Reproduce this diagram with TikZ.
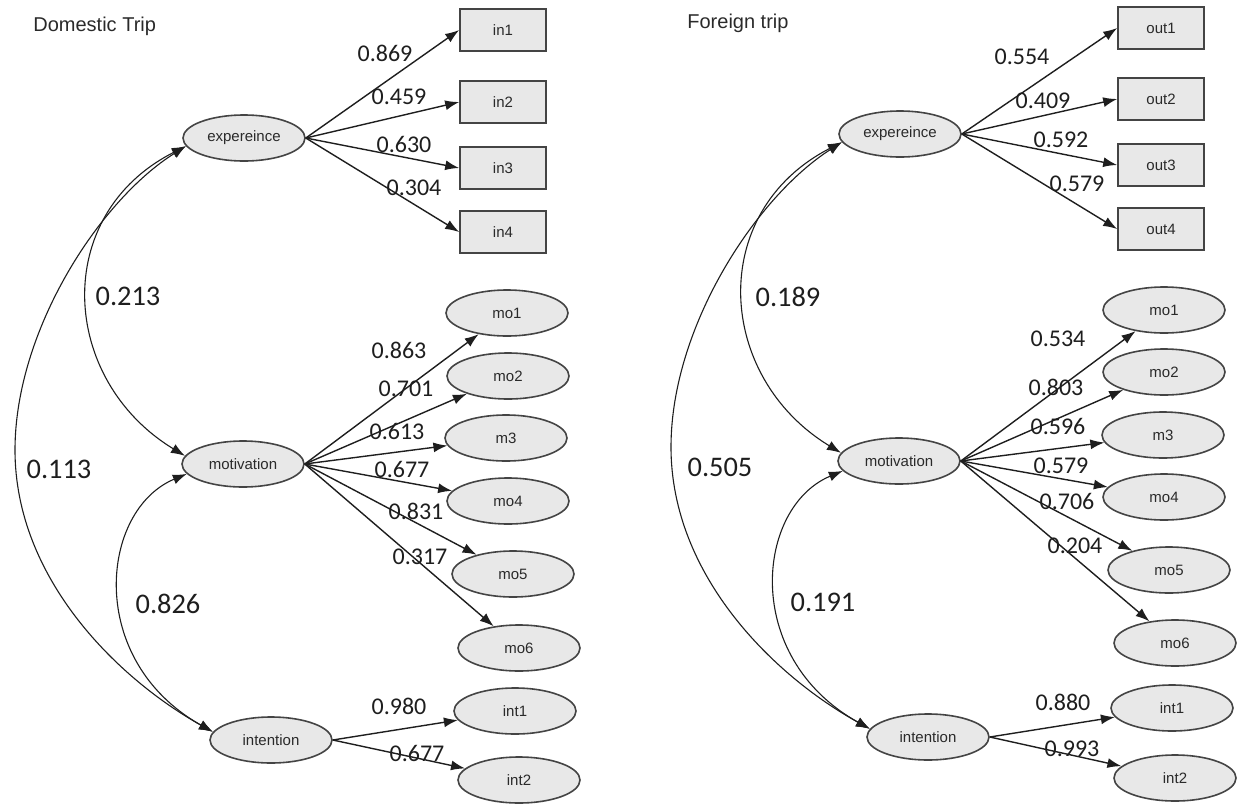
\documentclass[tikz,border=0pt]{standalone}
\usepackage{fontspec}
\setmainfont{Liberation Sans}
\newfontfamily\numfont{Carlito}
\usetikzlibrary{shapes.geometric,arrows.meta}
\definecolor{nfill}{HTML}{E8E8E8}
\definecolor{nline}{HTML}{444444}
\definecolor{ink}{HTML}{1E1E1E}
\definecolor{ntext}{HTML}{2A2A2A}
\tikzset{
  lat/.style={ellipse,draw=nline,fill=nfill,line width=0.8pt,minimum width=61pt,minimum height=23pt,inner sep=0pt,text=ntext,font=\fontsize{7.5}{9}\selectfont},
  obs/.style={rectangle,draw=nline,fill=nfill,line width=0.8pt,minimum width=43pt,minimum height=21pt,inner sep=0pt,text=ntext,font=\fontsize{7.5}{9}\selectfont},
  ttl/.style={anchor=west,inner sep=0pt,text=ntext,font=\fontsize{10}{12}\selectfont},
  val/.style={inner sep=0pt,text=ink,font=\numfont\fontsize{12}{14}\selectfont},
  bigval/.style={inner sep=0pt,text=ink,font=\numfont\fontsize{14.2}{16}\selectfont},
  arr/.style={draw=ink,line width=0.7pt,-{Latex[length=7pt,width=5pt]}},
  cov/.style={draw=ink,line width=0.55pt,{Latex[length=7pt,width=5pt]}-{Latex[length=7pt,width=5pt]}}
}
\begin{document}
\begin{tikzpicture}[x=0.5pt,y=-0.5pt]
\useasboundingbox (0,0) rectangle (1238,804);
% ---------------- Left panel ----------------
\node[ttl] (t1) at (33,26) {Domestic Trip};
\node[lat] (E1) at (244,138) {expereince};
\node[obs] (in1) at (503,30) {in1};
\node[obs] (in2) at (503,102) {in2};
\node[obs] (in3) at (503,168) {in3};
\node[obs] (in4) at (503,232) {in4};
\node[lat] (M1) at (243,464) {motivation};
\node[lat] (Lmo1) at (507,313) {mo1};
\node[lat] (Lmo2) at (508,376) {mo2};
\node[lat] (Lm3) at (506,438) {m3};
\node[lat] (Lmo4) at (508,501) {mo4};
\node[lat] (Lmo5) at (513,574) {mo5};
\node[lat] (Lmo6) at (519,648) {mo6};
\node[lat] (I1) at (271,740) {intention};
\node[lat] (Lint1) at (515,711) {int1};
\node[lat] (Lint2) at (519,780) {int2};

\draw[arr] (E1.east) -- (in1.west);
\draw[arr] (E1.east) -- (in2.west);
\draw[arr] (E1.east) -- (in3.west);
\draw[arr] (E1.east) -- (in4.west);
\foreach \n in {Lmo1,Lmo2,Lm3,Lmo4,Lmo5,Lmo6} \draw[arr] (M1.east) -- (\n);
\draw[arr] (I1.east) -- (Lint1);
\draw[arr] (I1.east) -- (Lint2);

\draw[cov] (E1.188) .. controls (50,215) and (60,380) .. (M1.172);
\coordinate (La) at (15,450);
\draw[cov] (E1.188) .. controls (100,200) and (15,330) .. (La) .. controls (15,580) and (120,680) .. (I1.172);
\draw[cov] (M1.190) .. controls (100,510) and (85,660) .. (I1.172);

\node[val] (l1) at (385,53) {0.869};
\node[val] (l2) at (399,97) {0.459};
\node[val] (l3) at (404,144) {0.630};
\node[val] (l4) at (414,188) {0.304};
\node[val] (l5) at (399,350) {0.863};
\node[val] (l6) at (406,389) {0.701};
\node[val] (l7) at (397,431) {0.613};
\node[val] (l8) at (402,469) {0.677};
\node[val] (l9) at (416,511) {0.831};
\node[val] (l10) at (420,557) {0.317};
\node[val] (l11) at (399,706) {0.980};
\node[val] (l12) at (417,753) {0.677};
\node[bigval] (l13) at (128,296) {0.213};
\node[bigval] (l14) at (59,469) {0.113};
\node[bigval] (l15) at (168,604) {0.826};

% ---------------- Right panel ----------------
\node[ttl] (t2) at (687,23) {Foreign trip};
\node[lat] (E2) at (900,134) {expereince};
\node[obs] (out1) at (1161,28) {out1};
\node[obs] (out2) at (1161,99) {out2};
\node[obs] (out3) at (1161,165) {out3};
\node[obs] (out4) at (1161,229) {out4};
\node[lat] (M2) at (899,461) {motivation};
\node[lat] (Rmo1) at (1164,310) {mo1};
\node[lat] (Rmo2) at (1164,372) {mo2};
\node[lat] (Rm3) at (1163,435) {m3};
\node[lat] (Rmo4) at (1164,497) {mo4};
\node[lat] (Rmo5) at (1169,570) {mo5};
\node[lat] (Rmo6) at (1175,643) {mo6};
\node[lat] (I2) at (928,737) {intention};
\node[lat] (Rint1) at (1172,708) {int1};
\node[lat] (Rint2) at (1175,778) {int2};

\draw[arr] (E2.east) -- (out1.west);
\draw[arr] (E2.east) -- (out2.west);
\draw[arr] (E2.east) -- (out3.west);
\draw[arr] (E2.east) -- (out4.west);
\foreach \n in {Rmo1,Rmo2,Rm3,Rmo4,Rmo5,Rmo6} \draw[arr] (M2.east) -- (\n);
\draw[arr] (I2.east) -- (Rint1);
\draw[arr] (I2.east) -- (Rint2);

\draw[cov] (E2.188) .. controls (706,212) and (716,377) .. (M2.172);
\coordinate (Ra) at (671,447);
\draw[cov] (E2.188) .. controls (756,197) and (671,327) .. (Ra) .. controls (671,577) and (776,677) .. (I2.172);
\draw[cov] (M2.190) .. controls (756,507) and (741,657) .. (I2.172);

\node[val] (r1) at (1022,57) {0.554};
\node[val] (r2) at (1043,101) {0.409};
\node[val] (r3) at (1061,140) {0.592};
\node[val] (r4) at (1077,184) {0.579};
\node[val] (r5) at (1058,339) {0.534};
\node[val] (r6) at (1056,387) {0.803};
\node[val] (r7) at (1058,426) {0.596};
\node[val] (r8) at (1061,466) {0.579};
\node[val] (r9) at (1067,501) {0.706};
\node[val] (r10) at (1075,546) {0.204};
\node[val] (r11) at (1063,702) {0.880};
\node[val] (r12) at (1072,749) {0.993};
\node[bigval] (r13) at (788,297) {0.189};
\node[bigval] (r14) at (720,467) {0.505};
\node[bigval] (r15) at (823,602) {0.191};
\end{tikzpicture}
\end{document}
